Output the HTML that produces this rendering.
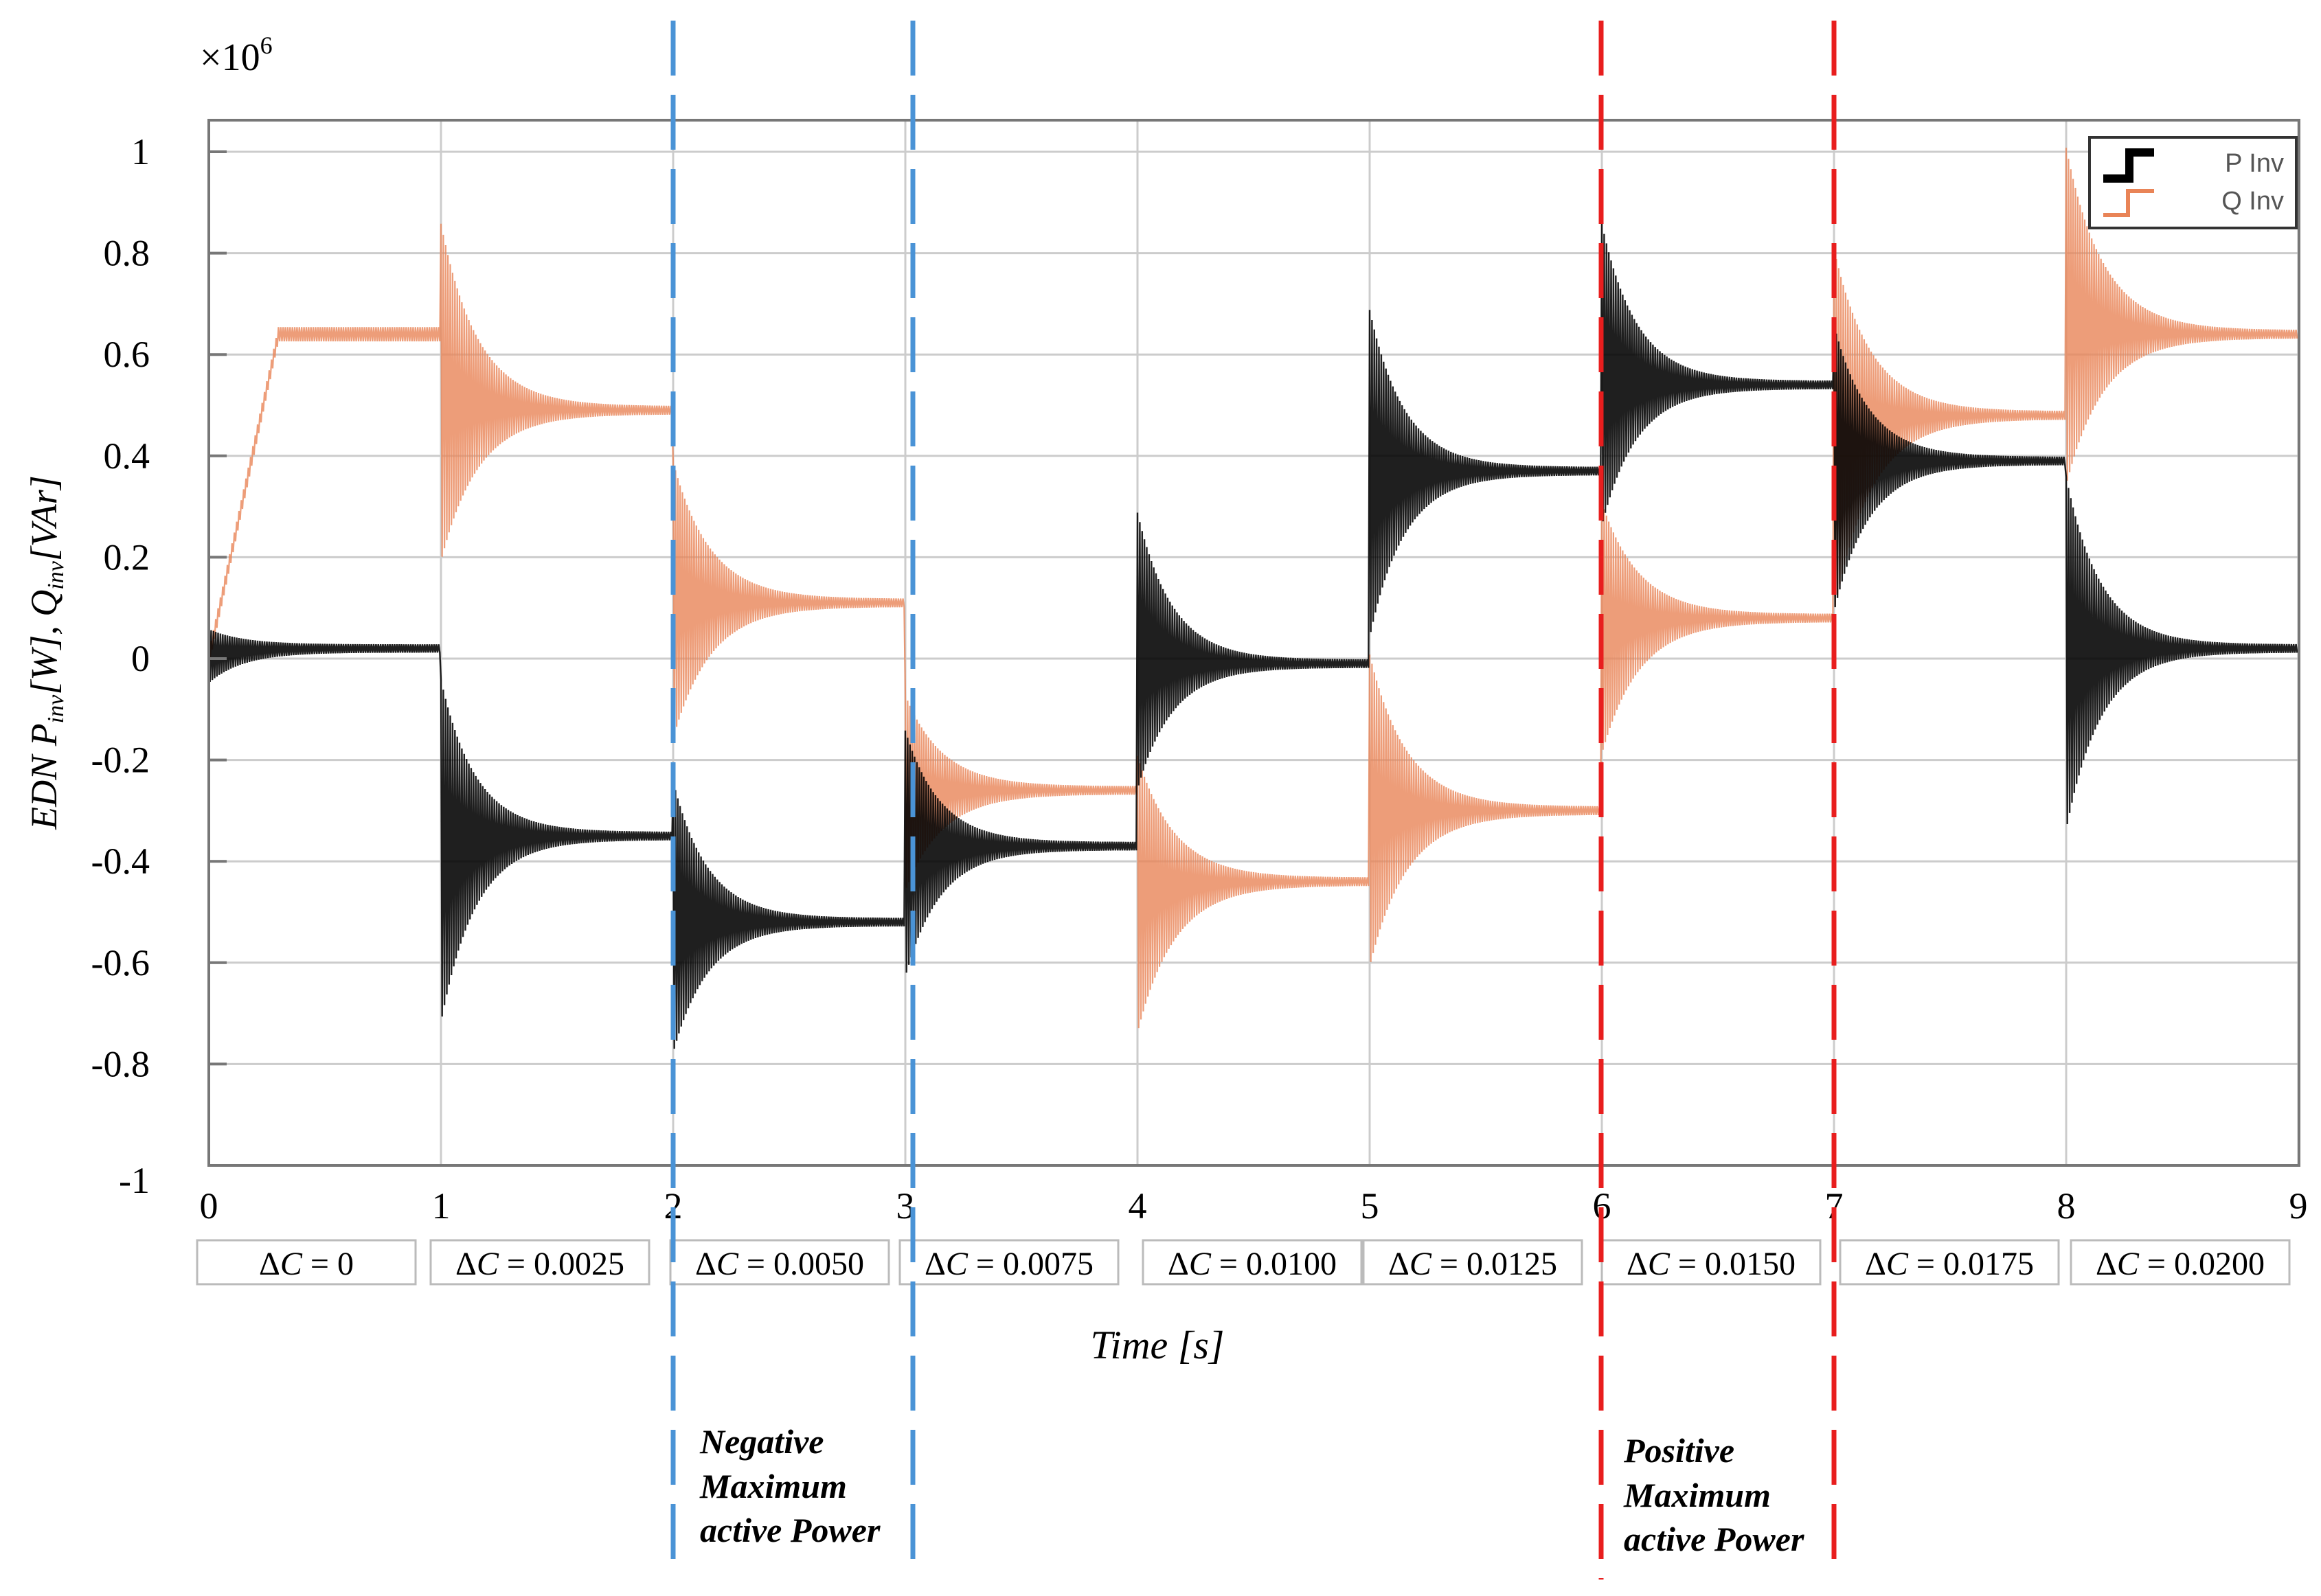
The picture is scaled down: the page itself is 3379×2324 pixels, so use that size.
<!DOCTYPE html>
<html><head><meta charset="utf-8"><style>
html,body{margin:0;padding:0;background:#fff;}
svg{display:block;}
text{font-family:"Liberation Serif",serif;}
</style></head><body>
<svg id="chart" width="3379" height="2324" viewBox="0 0 3379 2324" xmlns="http://www.w3.org/2000/svg">
<g id="grid"></g>
<g id="series"></g>
<rect x="304" y="175" width="3043" height="1522" fill="none" stroke="#777" stroke-width="4"/>
<g id="ticks"></g>
<text x="291" y="102" font-size="56">×10<tspan dy="-24" font-size="36">6</tspan></text>
<text transform="translate(82,950) rotate(-90)" text-anchor="middle" font-size="54" font-style="italic">EDN P<tspan font-size="34" dy="10">inv</tspan><tspan dy="-10">[W], Q</tspan><tspan font-size="34" dy="10">inv</tspan><tspan dy="-10">[VAr]</tspan></text>
<text x="1685" y="1978" text-anchor="middle" font-size="58" font-style="italic">Time [s]</text>
<g id="boxes"></g>
<g>
<rect x="3042" y="200" width="301" height="132" fill="#fff" stroke="#333" stroke-width="4"/>
<path d="M3062,260 H3100 V222 H3136" fill="none" stroke="#000" stroke-width="12"/>
<path d="M3062,313 H3098 V278 H3136" fill="none" stroke="#e98457" stroke-width="6"/>
<text x="3325" y="250" text-anchor="end" font-size="38" fill="#555" style="font-family:'Liberation Sans',sans-serif">P Inv</text>
<text x="3325" y="305" text-anchor="end" font-size="38" fill="#555" style="font-family:'Liberation Sans',sans-serif">Q Inv</text>
</g>
<g>
<line x1="980" y1="30" x2="980" y2="2290" stroke="#4a93d6" stroke-width="7" stroke-dasharray="80,28"/>
<line x1="1329" y1="30" x2="1329" y2="2270" stroke="#4a93d6" stroke-width="7" stroke-dasharray="80,28"/>
<text x="1019" y="2116" font-size="50" font-style="italic" font-weight="bold">Negative</text>
<text x="1019" y="2181" font-size="50" font-style="italic" font-weight="bold">Maximum</text>
<text x="1019" y="2245" font-size="50" font-style="italic" font-weight="bold">active Power</text>
</g>
<g>
<line x1="2331" y1="30" x2="2331" y2="2300" stroke="#e81e1e" stroke-width="7" stroke-dasharray="80,28"/>
<line x1="2670" y1="30" x2="2670" y2="2280" stroke="#e81e1e" stroke-width="7" stroke-dasharray="80,28"/>
<text x="2364" y="2129" font-size="50" font-style="italic" font-weight="bold">Positive</text>
<text x="2364" y="2194" font-size="50" font-style="italic" font-weight="bold">Maximum</text>
<text x="2364" y="2258" font-size="50" font-style="italic" font-weight="bold">active Power</text>
</g>
</svg>
<script>
const xTicks=[0,1,2,3,4,5,6,7,8,9];
const yTicks=[-1,-0.8,-0.6,-0.4,-0.2,0,0.2,0.4,0.6,0.8,1];
const yTickLabels=["-1","-0.8","-0.6","-0.4","-0.2","0","0.2","0.4","0.6","0.8","1"];
const deltaC=["0","0.0025","0.0050","0.0075","0.0100","0.0125","0.0150","0.0175","0.0200"];
const pSteady=[0.02,-0.35,-0.52,-0.37,-0.01,0.37,0.54,0.39,0.02];
const pHigh=[0.05,-0.05,-0.25,-0.15,0.28,0.68,0.85,0.65,0.35];
const pLow=[-0.04,-0.71,-0.77,-0.62,-0.25,0.05,0.27,0.1,-0.33];
const qSteady=[0.64,0.49,0.11,-0.26,-0.44,-0.3,0.08,0.48,0.64];
const qHigh=[0.67,0.85,0.38,-0.08,-0.2,0.0,0.3,0.8,1.0];
const qLow=[0.0,0.2,-0.15,-0.45,-0.73,-0.6,-0.18,0.1,0.35];
const qRamp=[0.3,0,0,0,0,0,0,0,0];

const X0=304,XS=338,Y0=959,YS=738;
const xs=t=>X0+t*XS, ys=v=>Y0-v*YS;
const NS='http://www.w3.org/2000/svg';
function mk(tag,attrs,parent){const e=document.createElementNS(NS,tag);for(const k in attrs)e.setAttribute(k,attrs[k]);parent.appendChild(e);return e;}
const grid=document.getElementById('grid'),ticks=document.getElementById('ticks');
xTicks.forEach(t=>{
  const l=mk('line',{x1:xs(t),x2:xs(t),y1:175,y2:1697,stroke:'#ccc','stroke-width':3},grid);
  
  
  const tx=mk('text',{x:xs(t),y:1774,'text-anchor':'middle','font-size':54},ticks);
  
  
  tx.textContent=t;
});
yTicks.forEach((v,i)=>{
  const l=mk('line',{x1:304,x2:3347,y1:ys(v),y2:ys(v),stroke:'#ccc','stroke-width':3},grid);
  
  
  const tk=mk('line',{x1:304,x2:330,y1:ys(v),y2:ys(v),stroke:'#777','stroke-width':4},ticks);
  
  
  const tx=mk('text',{x:218,y:ys(v)+(v===-1?40:18),'text-anchor':'end','font-size':54},ticks);
  
  
  tx.textContent=yTickLabels[i];
});
const boxX=[287,627,976,1310,1664,1985,2332,2679,3015];
const boxes=document.getElementById('boxes');
deltaC.forEach((d,i)=>{
  const r=mk('rect',{x:boxX[i],y:1806,width:318,height:64,fill:'#fff',stroke:'#bbb','stroke-width':3},boxes);
  
  
  const tx=mk('text',{x:boxX[i]+159,y:1856,'text-anchor':'middle','font-size':48},boxes);
  
  
  tx.innerHTML='Δ<tspan font-style="italic">C</tspan> = '+d;
});
const series=document.getElementById('series');
function build(st,hi,lo,ramp,tau){
  let d='';const dt=0.005;
  for(let k=0;k<st.length;k++){
    let i=0;
    for(let t=0;t<1-1e-9;t+=dt,i++){
      const e=Math.exp(-t/tau);
      let c=st[k],u,l;
      if(ramp&&ramp[k]>0){c=st[k]*Math.min(1,t/ramp[k]);u=c+0.014;l=c-0.014;}
      else{u=c+(hi[k]-c)*e+0.008;l=c-(c-lo[k])*e-0.008;}
      const v=(i%2===0)?u:l;
      d+=(d?'L':'M')+xs(k+t).toFixed(1)+','+ys(v).toFixed(1);
    }
  }
  return d;
}
const q=mk('path',{d:build(qSteady,qHigh,qLow,qRamp,0.16),fill:'none',stroke:'#e98457','stroke-width':2.2,'stroke-opacity':0.8},series);


const p=mk('path',{d:build(pSteady,pHigh,pLow,null,0.15),fill:'none',stroke:'#000','stroke-width':2.4,'stroke-opacity':0.88},series);


</script>
</body></html>
